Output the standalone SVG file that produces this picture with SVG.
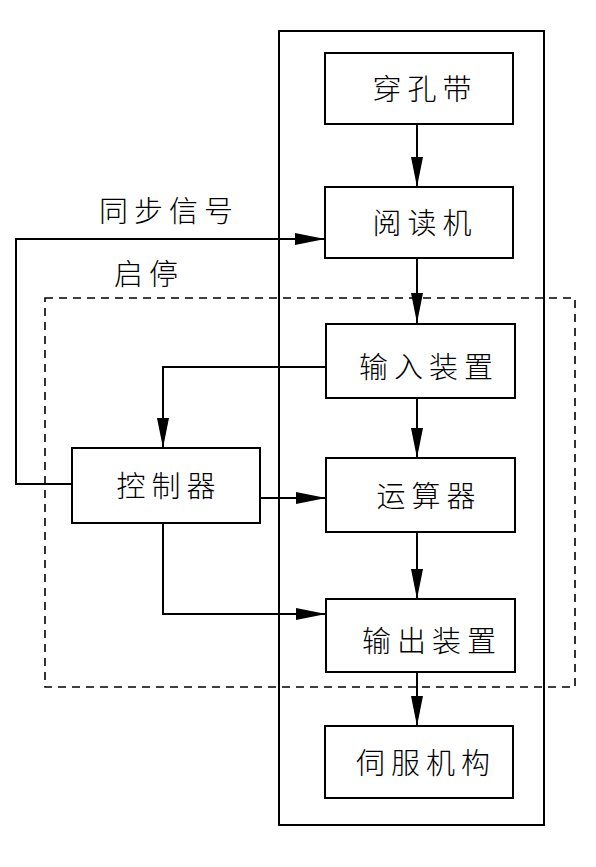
<svg xmlns="http://www.w3.org/2000/svg" width="596" height="867" viewBox="0 0 596 867">
<style>
.box{fill:#fff;stroke:#000;stroke-width:2}
.frame{fill:none;stroke:#000;stroke-width:2}
.dash{fill:none;stroke:#000;stroke-width:1.6;stroke-dasharray:8 6}
.ln{fill:none;stroke:#000;stroke-width:2}
.t{font-family:"Noto Sans CJK SC","Liberation Serif",serif;font-size:29px;font-weight:300;fill:#000;text-anchor:middle;letter-spacing:6px}
.lb{font-family:"Noto Sans CJK SC","Liberation Serif",serif;font-size:29px;font-weight:300;fill:#000;letter-spacing:6px}
</style>
<defs>
<marker id="ah" markerUnits="userSpaceOnUse" markerWidth="32" markerHeight="14" refX="30" refY="7" orient="auto">
<path d="M0,1 L30,7 L0,13 Z" fill="#000"/>
</marker>
</defs>
<rect width="596" height="867" fill="#fff"/>
<rect class="frame" x="279" y="31" width="265" height="794"/>
<rect class="dash" x="45" y="298" width="530" height="389"/>
<g id="connectors">
<line class="ln" x1="417" y1="124" x2="417" y2="187" marker-end="url(#ah)"/>
<line class="ln" x1="417" y1="258" x2="417" y2="323" marker-end="url(#ah)"/>
<line class="ln" x1="417" y1="398" x2="417" y2="458" marker-end="url(#ah)"/>
<line class="ln" x1="417" y1="532" x2="417" y2="599" marker-end="url(#ah)"/>
<line class="ln" x1="417" y1="672" x2="417" y2="726" marker-end="url(#ah)"/>
<polyline class="ln" points="72,484 16,484 16,239 325,239" marker-end="url(#ah)"/>
<polyline class="ln" points="326,367 163,367 163,448" marker-end="url(#ah)"/>
<line class="ln" x1="260" y1="498" x2="326" y2="498" marker-end="url(#ah)"/>
<polyline class="ln" points="163,523 163,614 326,614" marker-end="url(#ah)"/>
</g>
<g id="label-sync"><text class="lb" x="99" y="222">同步信号</text></g>
<g id="label-startstop"><text class="lb" x="114" y="285">启停</text></g>
<g id="n-tape"><rect class="box" x="325" y="53" width="188" height="71"/><text class="t" x="425" y="100">穿孔带</text></g>
<g id="n-reader"><rect class="box" x="325" y="187" width="188" height="71"/><text class="t" x="425" y="234">阅读机</text></g>
<g id="n-input"><rect class="box" x="326" y="324" width="189" height="74"/><text class="t" x="429" y="378">输入装置</text></g>
<g id="n-controller"><rect class="box" x="72" y="448" width="188" height="75"/><text class="t" x="169" y="497">控制器</text></g>
<g id="n-alu"><rect class="box" x="326" y="458" width="189" height="74"/><text class="t" x="429" y="507">运算器</text></g>
<g id="n-output"><rect class="box" x="326" y="599" width="189" height="73"/><text class="t" x="432" y="652">输出装置</text></g>
<g id="n-servo"><rect class="box" x="325" y="726" width="188" height="72"/><text class="t" x="426" y="774">伺服机构</text></g>
</svg>
